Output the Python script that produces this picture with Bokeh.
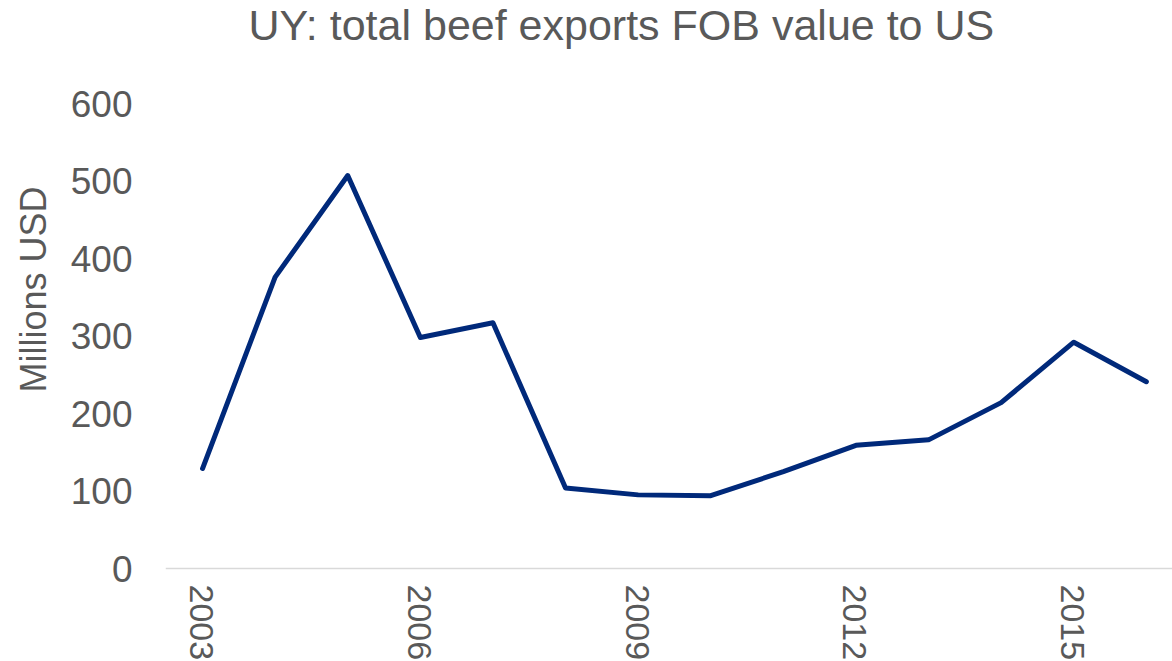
import math
from bokeh.plotting import figure
from bokeh.models import FixedTicker, Range1d, Title, Span
from bokeh.core.properties import value
from bokeh.embed import file_html
from bokeh.resources import INLINE

years = [2003, 2004, 2005, 2006, 2007, 2008, 2009, 2010, 2011, 2012, 2013, 2014, 2015, 2016]
exports = [129, 376, 507, 298, 317, 104, 95, 94, 125, 159, 166, 214, 292, 241]
x_ticks = [2003, 2006, 2009, 2012, 2015]
x_tick_labels = ["2003", "2006", "2009", "2012", "2015"]
y_ticks = [0, 100, 200, 300, 400, 500, 600]
title_text = "UY:  total beef exports FOB value to  US"
y_label = "Millions USD"

FONT = "Liberation Sans"
GREY = "#595959"

PX_PER_UNIT = 465 / 600          # vertical scale of the plot area
BELOW_PX = 92                    # room under the zero line for the year labels
y_low = -BELOW_PX / PX_PER_UNIT

p = figure(frame_width=1007, frame_height=465 + BELOW_PX, output_backend="svg",
           toolbar_location=None,
           x_range=Range1d(2002.49, 2016.36), y_range=Range1d(y_low, 600))
p.min_border_left = 0
p.min_border_right = 0
p.min_border_top = 0
p.min_border_bottom = 0
p.outline_line_color = None
p.background_fill_color = "white"
p.border_fill_color = "white"
p.xgrid.visible = False
p.ygrid.visible = False
p.xaxis.visible = False

t = Title(text=title_text, text_font=FONT, text_font_size="43px", text_color=GREY,
          text_font_style="normal", align="left", offset=83, standoff=0,
          vertical_align="top", padding=(0, 0, 0, 53))
p.add_layout(t, "above")

p.add_layout(Span(location=0, dimension="width", line_color="#D9D9D9", line_width=1.5))

p.line(years, exports, line_color="#00297A", line_width=5, line_cap="round", line_join="round")

p.text(x=x_ticks, y=[0] * len(x_ticks), text=x_tick_labels, angle=-math.pi / 2,
       y_offset=16, x_offset=-1, text_align="left", text_baseline="middle",
       text_font=value(FONT), text_font_size="34px", text_color=GREY)

ya = p.yaxis[0]
ya.ticker = FixedTicker(ticks=y_ticks)
ya.axis_line_color = None
ya.major_tick_line_color = None
ya.minor_tick_line_color = None
ya.major_label_text_font = FONT
ya.major_label_text_font_size = "37px"
ya.major_label_text_color = GREY
ya.major_label_standoff = 27

lt = Title(text=y_label, text_font=FONT, text_font_size="36px", text_color=GREY,
           text_font_style="normal", align="right", offset=83, standoff=24,
           vertical_align="top")
p.add_layout(lt, "left")

open("out.html", "w").write(file_html(p, INLINE))
